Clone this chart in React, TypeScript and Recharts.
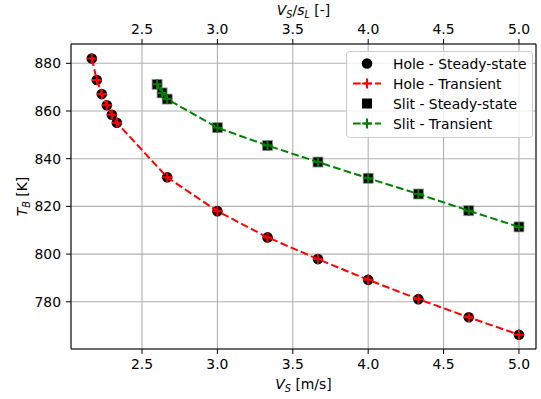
import { ScatterChart, Scatter, XAxis, YAxis, CartesianGrid } from "recharts"

const FONT = '"DejaVu Sans", sans-serif'
const FS = 13.9

// Hole configuration: V_S [m/s] vs T_B [K]
const holeVs = [2.167, 2.2, 2.233, 2.267, 2.3, 2.333, 2.667, 3.0, 3.333, 3.667, 4.0, 4.333, 4.667, 5.0]
const holeSteady = [882.0, 873.0, 867.1, 862.4, 858.4, 855.1, 832.2, 818.0, 807.0, 797.9, 789.2, 781.1, 773.5, 766.2]
const holeTransient = [882.0, 873.0, 867.1, 862.4, 858.4, 855.1, 832.2, 818.0, 807.0, 797.9, 789.2, 781.1, 773.5, 766.2]

// Slit configuration
const slitVs = [2.6, 2.633, 2.667, 3.0, 3.333, 3.667, 4.0, 4.333, 4.667, 5.0]
const slitSteady = [871.2, 867.6, 865.0, 853.0, 845.5, 838.6, 831.8, 825.2, 818.2, 811.4]
const slitTransient = [871.2, 867.6, 865.0, 853.0, 845.5, 838.6, 831.8, 825.2, 818.2, 811.4]

const xTicks = [2.5, 3.0, 3.5, 4.0, 4.5, 5.0]
const yTicks = [780, 800, 820, 840, 860, 880]

const X_DOMAIN = [2.029, 5.113]
const Y_DOMAIN = [760.2, 888.1]

const toRows = (xs: number[], ys: number[]) => xs.map((x, i) => ({ vs: x, tb: ys[i] }))

const holeSteadyRows = toRows(holeVs, holeSteady)
const holeTransientRows = toRows(holeVs, holeTransient)
const slitSteadyRows = toRows(slitVs, slitSteady)
const slitTransientRows = toRows(slitVs, slitTransient)

const RED = "#ff0000"
const GREEN = "#008000"
const DASH = "7.7 3.3"
const MID_X = 303.5

const tickStyle = { fill: "#000", fontSize: FS, fontFamily: FONT }

function CircleDot(p: any) {
  return <circle cx={p.cx} cy={p.cy} r={5.3} fill="#000" />
}

function SquareDot(p: any) {
  return <rect x={p.cx - 5} y={p.cy - 5} width={10} height={10} fill="#000" stroke="#9a9a9a" strokeWidth={0.8} />
}

function plusDot(color: string) {
  return (p: any) => (
    <path
      d={`M${p.cx - 5},${p.cy}H${p.cx + 5}M${p.cx},${p.cy - 5}V${p.cy + 5}`}
      stroke={color}
      strokeWidth={2}
      fill="none"
    />
  )
}

function Sub({ children }: { children: string }) {
  return <tspan fontSize={FS * 0.7} dy={3} fontStyle="italic">{children}</tspan>
}

function BottomTitle() {
  return (
    <text x={MID_X} y={389} textAnchor="middle" fontSize={FS} fontFamily={FONT} fill="#000">
      <tspan fontStyle="italic">V</tspan>
      <Sub>S</Sub>
      <tspan dy={-3}> [m/s]</tspan>
    </text>
  )
}

function TopTitle() {
  return (
    <text x={MID_X} y={15} textAnchor="middle" fontSize={FS} fontFamily={FONT} fill="#000">
      <tspan fontStyle="italic">V</tspan>
      <Sub>S</Sub>
      <tspan dy={-3}>/</tspan>
      <tspan fontStyle="italic">s</tspan>
      <Sub>L</Sub>
      <tspan dy={-3}> [-]</tspan>
    </text>
  )
}

function LeftTitle() {
  return (
    <text
      x={27}
      y={196.5}
      textAnchor="middle"
      fontSize={FS}
      fontFamily={FONT}
      fill="#000"
      transform="rotate(-90 27 196.5)"
    >
      <tspan fontStyle="italic">T</tspan>
      <Sub>B</Sub>
      <tspan dy={-3}> [K]</tspan>
    </text>
  )
}

const LEGEND = [
  { label: "Hole - Steady-state", kind: "circle" },
  { label: "Hole - Transient", kind: "red" },
  { label: "Slit - Steady-state", kind: "square" },
  { label: "Slit - Transient", kind: "green" },
]

function LegendBox() {
  return (
    <svg width={188} height={88} style={{ position: "absolute", left: 346, top: 51 }}>
      <rect x={0.5} y={0.5} width={186} height={86} rx={3} fill="#fff" fillOpacity={0.8} stroke="#cccccc" />
      {LEGEND.map((e, i) => {
        const cy = 12.5 + i * 20
        const cx = 21
        let icon
        if (e.kind === "circle") icon = <circle cx={cx} cy={cy} r={5.3} fill="#000" />
        else if (e.kind === "square") icon = <rect x={cx - 5} y={cy - 5} width={10} height={10} fill="#000" />
        else {
          const c = e.kind === "red" ? RED : GREEN
          icon = (
            <g>
              <line x1={7} x2={35} y1={cy} y2={cy} stroke={c} strokeWidth={2} strokeDasharray={DASH} />
              <path d={`M${cx - 5},${cy}H${cx + 5}M${cx},${cy - 5}V${cy + 5}`} stroke={c} strokeWidth={2} />
            </g>
          )
        }
        return (
          <g key={e.label}>
            {icon}
            <text x={47} y={cy + 5} fontSize={FS} fontFamily={FONT} fill="#000">
              {e.label}
            </text>
          </g>
        )
      })}
    </svg>
  )
}

export default function App() {
  return (
    <div style={{ position: "absolute", left: 0, top: 0, width: 541, height: 399, background: "#fff" }}>
      <ScatterChart width={541} height={399} margin={{ top: 0, right: 4, bottom: 0, left: 0 }}>
        <CartesianGrid xAxisId="bottom" yAxisId="left" stroke="#b0b0b0" strokeWidth={1.1} />
        <XAxis
          xAxisId="bottom"
          orientation="bottom"
          type="number"
          dataKey="vs"
          domain={X_DOMAIN}
          ticks={xTicks}
          allowDataOverflow
          height={50}
          tickSize={5}
          tickMargin={5}
          tick={tickStyle}
          tickFormatter={(v: number) => v.toFixed(1)}
          axisLine={{ stroke: "#000", strokeWidth: 1 }}
          tickLine={{ stroke: "#000" }}
          label={<BottomTitle />}
        />
        <XAxis
          xAxisId="top"
          orientation="top"
          type="number"
          dataKey="vs"
          domain={X_DOMAIN}
          ticks={xTicks}
          allowDataOverflow
          height={44}
          tickSize={5}
          tickMargin={5}
          tick={tickStyle}
          tickFormatter={(v: number) => v.toFixed(1)}
          axisLine={{ stroke: "#000", strokeWidth: 1 }}
          tickLine={{ stroke: "#000" }}
          label={<TopTitle />}
        />
        <YAxis
          yAxisId="left"
          type="number"
          dataKey="tb"
          domain={Y_DOMAIN}
          ticks={yTicks}
          allowDataOverflow
          width={71}
          tickSize={5}
          tickMargin={5}
          tick={tickStyle}
          axisLine={{ stroke: "#000", strokeWidth: 1 }}
          tickLine={{ stroke: "#000" }}
          label={<LeftTitle />}
        />
        <YAxis
          yAxisId="right"
          orientation="right"
          type="number"
          dataKey="tb"
          domain={Y_DOMAIN}
          allowDataOverflow
          width={1}
          tick={false}
          tickLine={false}
          axisLine={{ stroke: "#000", strokeWidth: 1 }}
        />
        <Scatter
          xAxisId="bottom"
          yAxisId="left"
          data={holeSteadyRows}
          shape={CircleDot}
          isAnimationActive={false}
        />
        <Scatter
          xAxisId="bottom"
          yAxisId="left"
          data={holeTransientRows}
          line={{ stroke: RED, strokeWidth: 2, strokeDasharray: DASH }}
          lineType="joint"
          shape={plusDot(RED)}
          isAnimationActive={false}
        />
        <Scatter
          xAxisId="bottom"
          yAxisId="left"
          data={slitSteadyRows}
          shape={SquareDot}
          isAnimationActive={false}
        />
        <Scatter
          xAxisId="bottom"
          yAxisId="left"
          data={slitTransientRows}
          line={{ stroke: GREEN, strokeWidth: 2, strokeDasharray: DASH }}
          lineType="joint"
          shape={plusDot(GREEN)}
          isAnimationActive={false}
        />
      </ScatterChart>
      <LegendBox />
    </div>
  )
}
